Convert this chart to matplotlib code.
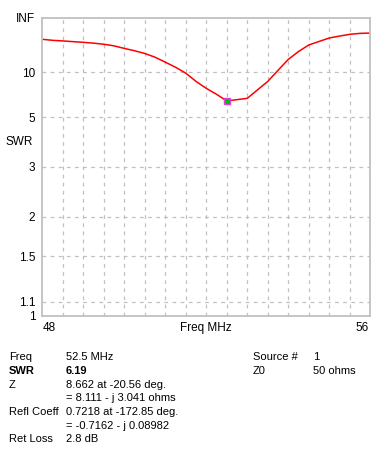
import numpy as np
import matplotlib
matplotlib.use('Agg')
import matplotlib.pyplot as plt

plt.rcParams['font.family'] = ['Liberation Sans', 'DejaVu Sans']
plt.rcParams['font.size'] = 8

# SWR sweep, 48 - 56 MHz in 0.25 MHz steps
freq = [48.0, 48.25, 48.5, 48.75, 49.0, 49.25, 49.5, 49.75, 50.0, 50.25,
        50.5, 50.75, 51.0, 51.25, 51.5, 51.75, 52.0, 52.25, 52.5, 52.75,
        53.0, 53.25, 53.5, 53.75, 54.0, 54.25, 54.5, 54.75, 55.0, 55.25,
        55.5, 55.75, 56.0]
swr = [27.0, 25.7, 25.0, 24.2, 23.5, 22.7, 21.7, 20.4, 18.6, 17.2,
       15.8, 14.2, 12.5, 11.1, 9.8, 8.4, 7.47, 6.81, 6.19, 6.3,
       6.42, 7.3, 8.4, 10.4, 13.4, 16.8, 21.1, 24.4, 28.8, 32.0,
       35.5, 37.8, 38.5]

cursor_freq = 52.5
cursor_swr = 6.19

swr_ticks = [1, 1.1, 1.5, 2, 3, 5, 10]
swr_top = 1e9  # stands in for INF

info_left = [('Freq', '52.5 MHz'), ('SWR', '6.19'), ('Z', '8.662 at -20.56 deg.'),
             ('', '= 8.111 - j 3.041 ohms'), ('Refl Coeff', '0.7218 at -172.85 deg.'),
             ('', '= -0.7162 - j 0.08982'), ('Ret Loss', '2.8 dB')]
info_right = [('Source #', '1'), ('Z0', '50 ohms')]


def to_rho(s):
    s = np.asarray(s, dtype=float)
    return (s - 1) / (s + 1)


def from_rho(r):
    r = np.clip(np.asarray(r, dtype=float), -0.999999999, 0.999999999)
    return (1 + r) / (1 - r)


fig = plt.figure(figsize=(3.91, 4.58), dpi=100)
ax = fig.add_axes([42.3 / 391, 1 - 316 / 458, 328 / 391, 298 / 458])
ax.set_yscale('function', functions=(to_rho, from_rho))

grid = dict(color='#c0c0c0', linestyle=(0, (3, 3.5)), linewidth=0.9)
for s in swr_ticks[1:]:
    ax.axhline(s, **grid)
for f in np.arange(48.5, 56, 0.5):
    ax.axvline(f, **grid)

ax.plot(freq, swr, color='red', linewidth=1.1)
ax.plot([cursor_freq], [cursor_swr], marker='s', markersize=4,
        markerfacecolor='#00c000', markeredgecolor='#e040e0', markeredgewidth=1)

ax.set_xlim(48, 56)
ax.set_ylim(1, swr_top)
ax.set_xticks([])
ax.set_yticks(swr_ticks + [swr_top])
ax.set_yticklabels(['1', '1.1', '1.5', '2', '3', '5', '10', 'INF'])
ax.tick_params(axis='y', length=0, pad=5, labelsize=8.5)
for sp in ax.spines.values():
    sp.set_color('#c0c0c0')
    sp.set_linewidth(1.3)

fig.text(5 / 391, 1 - 142 / 458, 'SWR', ha='left', va='center', fontsize=8.5)
fig.text(43 / 391, 1 - 328 / 458, '48', ha='left', va='center', fontsize=8.5)
fig.text(369 / 391, 1 - 328 / 458, '56', ha='right', va='center', fontsize=8.5)
fig.text(206 / 391, 1 - 328 / 458, 'Freq MHz', ha='center', va='center', fontsize=8.5)

y0 = 357.3
step = 13.7
for i, (lab, val) in enumerate(info_left):
    y = 1 - (y0 + i * step) / 458
    w = 'bold' if lab == 'SWR' else 'normal'
    fig.text(9 / 391, y, lab, ha='left', va='center', fontweight=w)
    fig.text(66 / 391, y, val, ha='left', va='center', fontweight=w)
for i, (lab, val) in enumerate(info_right):
    y = 1 - (y0 + i * step) / 458
    fig.text(253 / 391, y, lab, ha='left', va='center')
    fig.text(313 / 391, y, val, ha='left', va='center')

fig.savefig('out.png', dpi=100)
